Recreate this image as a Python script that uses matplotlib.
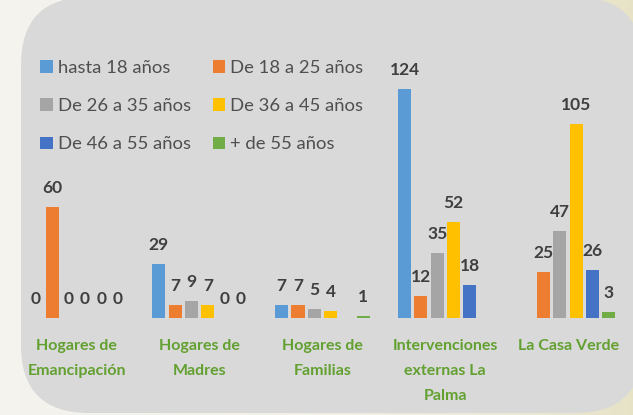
import matplotlib
matplotlib.use("Agg")
import matplotlib.pyplot as plt
import numpy as np
from matplotlib.patches import FancyBboxPatch, Patch

categories = ["Hogares de\nEmancipación", "Hogares de\nMadres", "Hogares de\nFamilias",
              "Intervenciones\nexternas La\nPalma", "La Casa Verde"]
series_names = ["hasta 18 años", "De 18 a 25 años", "De 26 a 35 años",
                "De 36 a 45 años", "De 46 a 55 años", "+ de 55 años"]
hasta_18 = [0, 29, 7, 124, np.nan]
de_18_25 = [60, 7, 7, 12, 25]
de_26_35 = [0, 9, 5, 35, 47]
de_36_45 = [0, 7, 4, 52, 105]
de_46_55 = [0, 0, np.nan, 18, 26]
mas_55 = [0, 0, 1, np.nan, 3]
series = [hasta_18, de_18_25, de_26_35, de_36_45, de_46_55, mas_55]
colors = ["#5b9bd5", "#ed7d31", "#a5a5a5", "#ffc000", "#4472c4", "#70ad47"]

W, H = 633, 415
fig = plt.figure(figsize=(W / 100, H / 100), dpi=100)

# background with panel
bg = fig.add_axes([0, 0, 1, 1], zorder=0)
bg.axis("off")
grad = np.linspace(0, 1, 200)
c1 = np.array([0.957, 0.953, 0.933])
c2 = np.array([0.905, 0.890, 0.780])
img = c1[None, :] * (1 - grad[:, None] ** 2) + c2[None, :] * grad[:, None] ** 2
bg.imshow(img[None, :, :], extent=[0, W, H, 0], aspect="auto")
panel = FancyBboxPatch((21, -3), 622, 416, boxstyle="round,pad=0,rounding_size=68",
                       facecolor="#d9d9d9", edgecolor="none")
bg.add_patch(panel)
bg.set_xlim(0, W)
bg.set_ylim(H, 0)

ax = fig.add_axes([15.5 / W, 97 / H, 614 / W, 314 / H], zorder=1)
ax.patch.set_alpha(0)
x = np.arange(len(categories))
slot = 0.133
bw = 0.106
handles = []
for i, (vals, c, name) in enumerate(zip(series, colors, series_names)):
    off = (i - 2.5) * slot
    v = np.array(vals, dtype=float)
    ax.bar(x + off, np.nan_to_num(v), width=bw, color=c, label=name)
    for xi, val in zip(x + off, v):
        if np.isnan(val):
            continue
        ax.annotate(f"{int(val)}", (xi, val), xytext=(0, 8), textcoords="offset points",
                    ha="center", va="bottom", fontsize=12.5, fontweight="bold",
                    color="#3f3f3f", family="Lato")
    handles.append(Patch(facecolor=c, label=name))

ax.set_xlim(-0.5, 4.5)
ax.set_ylim(0, 170)
ax.set_yticks([])
for s in ax.spines.values():
    s.set_visible(False)
ax.set_xticks(x)
ax.set_xticklabels(categories, fontsize=11.5, fontweight="bold", color="#62a030",
                   family="Lato", linespacing=2.0)
ax.tick_params(axis="x", length=0, pad=15)

order = [0, 2, 4, 1, 3, 5]
leg = fig.legend([handles[k] for k in order], [series_names[k] for k in order],
                 ncol=2, loc="upper left", bbox_to_anchor=(40 / W, 1 - 60 / H),
                 frameon=False, handlelength=0.68, handleheight=0.68,
                 handletextpad=0.28, columnspacing=1.18, labelspacing=1.2,
                 borderpad=0, borderaxespad=0,
                 prop={"family": "Lato", "size": 13.3})
for t in leg.get_texts():
    t.set_color("#4f4f4f")

fig.savefig("out.png", dpi=100)
